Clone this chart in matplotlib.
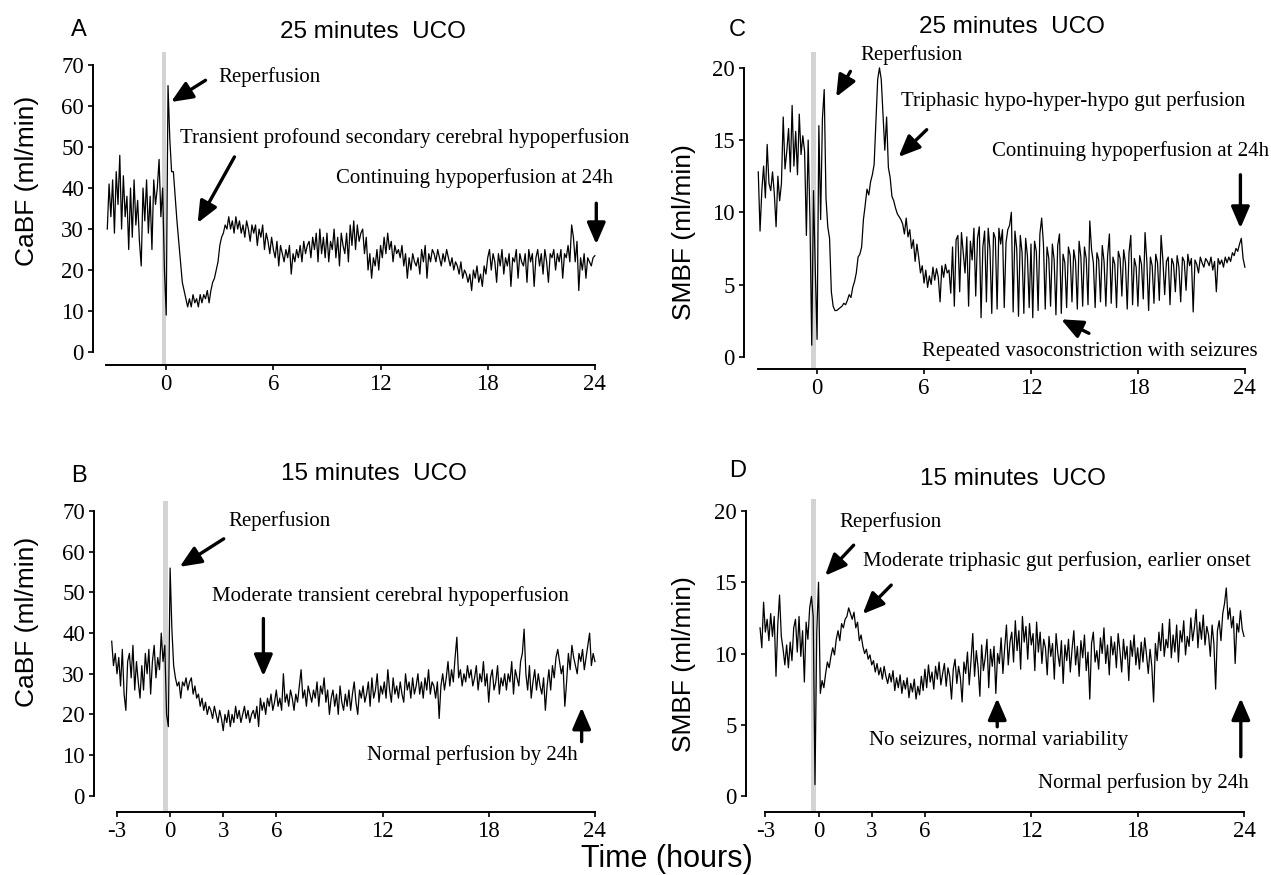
import numpy as np
import matplotlib.pyplot as plt

# ---- data (hours from -3.3 to 24, 0.1 h spacing) ----
caBF_25 = [
    30, 41, 33, 42, 29, 44, 36, 48, 30, 43,
    33, 38, 25, 40, 28, 42, 31, 37, 27, 21,
    40, 32, 42, 29, 38, 25, 42, 36, 40, 47,
    33, 40, 20, 9, 65, 52, 44, 44, 38, 32,
    27, 22, 17, 15, 13, 11, 13, 11, 14, 12,
    13, 11, 14, 12, 14, 13, 15, 12, 15, 17,
    18, 20, 22, 26, 28, 29, 31, 30, 33, 30,
    32, 29, 33,
    30, 32, 29, 31, 28, 32, 30, 27, 31, 29,
    31, 26, 30, 28, 31, 25, 29, 27, 24, 28,
    25, 23, 27, 21, 26, 24, 22, 25, 23, 26,
    19, 24, 22, 25, 23, 26, 22, 27, 24, 26,
    27, 23, 28, 25, 29, 22, 30, 24, 28, 23,
    29, 22, 27, 25, 30, 23, 28, 21, 29, 26,
    24, 29, 22, 31, 26, 32, 25, 31, 27, 29,
    30, 24, 28, 20, 24, 18, 23, 21, 25, 20,
    26, 23, 28, 24, 29, 25, 27, 22, 26, 24,
    25, 23, 26, 21, 24, 18, 23, 20, 24, 22,
    21, 23, 19, 25, 22, 26, 18, 24, 22, 25,
    24, 22, 25, 23, 21, 24, 22, 25, 23, 21,
    23, 20, 22, 21, 19, 22, 18, 20, 19, 17,
    19, 15, 20, 18, 21, 17, 19, 16, 21, 19,
    23, 25, 20, 24, 22, 17, 24, 21, 25, 19,
    23, 21, 24, 16, 23, 22, 25, 18, 24, 22,
    21, 24, 17, 25, 22, 24, 16, 23, 25, 21,
    24, 19, 25, 22, 17, 24, 23, 25, 20, 24,
    22, 25, 18, 24, 23, 26, 22, 31, 28, 22,
    27, 15, 23, 20, 24, 18, 23, 22, 21, 23,
    23.5]

caBF_15 = [
    38, 32, 35, 30, 34, 27, 36, 25, 21, 33,
    35, 29, 37, 26, 33, 28, 24, 32, 26, 35,
    30, 36, 25, 33, 37, 29, 34, 31, 40, 33,
    37, 20, 17, 56, 41, 32, 29, 27, 28, 24,
    28, 27, 29, 26, 28, 29, 25, 27, 24, 25,
    22, 24, 21, 23, 20, 22, 21, 19, 22, 20,
    18, 21, 19, 16, 20, 18, 21, 17, 20, 18,
    22, 19, 21,
    18, 20, 22, 19, 21, 18, 20, 21, 19, 22,
    17, 24, 21, 23, 20, 24, 22, 25, 21, 23,
    26, 22, 24, 21, 30, 23, 25, 22, 26, 24,
    21, 25, 23, 27, 31, 24, 26, 22, 27, 25,
    23, 26, 24, 28, 22, 27, 25, 29, 23, 26,
    20, 24, 26, 22, 25, 20, 27, 23, 21, 25,
    22, 26, 21, 25, 28, 23, 20, 26, 24, 27,
    23, 25, 28, 22, 29, 24, 26, 30, 23, 27,
    25, 28, 24, 31, 26, 23, 29, 25, 27, 24,
    28, 25, 23, 30, 26, 28, 24, 29, 25, 27,
    30, 25, 28, 24, 29, 26, 31, 25, 28, 27,
    24, 28, 19, 27, 30, 26, 29, 33, 27, 31,
    28, 34, 39, 29, 31, 27, 30, 28, 32, 29,
    31, 27, 29, 32, 26, 30, 28, 33, 27, 30,
    23, 29, 31, 26, 28, 32, 25, 29, 27, 30,
    26, 30, 28, 33, 25, 31, 29, 27, 33, 35,
    41, 30, 26, 32, 24, 28, 31, 26, 30, 27,
    25, 29, 21, 27, 31, 26, 32, 29, 34, 36,
    33, 30, 32, 22, 28, 35, 31, 37, 34, 32,
    30, 35, 33, 36, 31, 34, 37, 40, 32, 35,
    33]

smbf_25 = [
    12.8, 8.7, 11.5, 13.2, 11.0, 14.7, 12.0, 11.5, 12.8, 11.3,
    9.0, 12.5, 10.8, 12.0, 16.6, 13.0, 14.2, 15.8, 12.8, 17.4,
    13.2, 15.6, 12.6, 16.8, 14.0, 15.3, 14.2, 8.4, 15.0, 9.5,
    0.8, 11.5, 6.0, 1.2, 16.0, 9.5, 16.5, 18.5, 11.0, 9.0,
    8.2, 4.5, 3.5, 3.2, 3.2, 3.3, 3.4, 3.5, 3.7, 3.6,
    3.9, 4.3, 4.1, 4.8, 5.2, 5.8, 6.9, 7.1, 7.6, 9.5,
    10.5, 11.6, 11.2, 12.1, 12.6, 13.3, 16.2, 19.2, 20.0, 19.2,
    16.8, 14.3, 16.6,
    13.1, 12.4, 11.1, 10.8, 10.3, 9.9, 9.7, 9.5, 9.2, 8.5,
    9.6, 8.3, 8.8, 7.5, 8.1, 6.6, 7.8, 6.9, 5.8, 6.3,
    5.1, 6.0, 4.8, 5.6, 5.0, 6.2, 5.3, 6.1, 5.5, 3.8,
    6.3, 5.5, 6.4, 5.8, 6.0, 4.4, 7.6, 3.5, 8.1, 8.4,
    4.5, 8.6, 7.2, 5.8, 8.3, 3.5, 8.0, 6.7, 8.9, 4.2,
    8.2, 9.0, 2.7, 7.6, 8.7, 3.8, 8.9, 7.4, 3.0, 8.6,
    8.2, 3.3, 8.9, 7.8, 8.8, 3.4, 7.9, 8.8, 9.1, 10.0,
    3.1, 8.7, 7.5, 2.8, 8.4, 7.2, 3.0, 8.2, 7.0, 3.4,
    7.8, 2.7, 8.0, 7.3, 3.2, 8.5, 9.6, 7.8, 3.3, 7.6,
    6.8, 3.5, 7.8, 6.7, 2.9, 7.7, 8.5, 3.0, 7.1, 6.5,
    3.4, 7.6, 7.0, 3.8, 7.4, 6.6, 3.3, 8.0, 6.9, 3.5,
    7.6, 6.8, 3.6, 9.4, 7.4, 6.5, 3.4, 7.2, 6.7, 3.8,
    7.7, 6.6, 3.5, 7.0, 8.5, 3.7, 6.9, 6.4, 3.4, 7.3,
    6.8, 4.2, 7.4, 6.5, 3.3, 7.2, 8.4, 3.6, 6.8, 6.2,
    3.5, 7.0, 6.4, 4.0, 8.6, 6.6, 3.2, 6.9, 6.3, 3.7,
    7.1, 6.5, 3.9, 8.4, 6.7, 4.3, 6.6, 6.9, 3.6, 6.8,
    6.4, 4.5, 7.0, 6.2, 3.8, 6.9, 6.6, 4.6, 7.1, 6.3,
    6.8, 3.1, 6.7, 6.4, 5.8, 6.9, 6.5, 6.2, 6.8, 6.6,
    6.3, 6.9, 6.0, 6.6, 4.5, 6.8, 6.4, 6.7, 6.2, 6.9,
    6.5, 6.9, 6.6, 7.2, 7.0, 7.5, 7.3, 7.8, 8.2, 6.8,
    6.2]

smbf_15 = [
    11.8, 10.4, 13.6, 11.5, 12.4, 10.9, 12.8, 11.2, 12.6, 8.4,
    12.0, 14.1, 11.2, 10.3, 9.2, 10.6, 9.0, 10.8, 9.5, 11.8,
    12.4, 10.1, 12.6, 9.8, 11.6, 8.0, 12.2, 11.0, 13.2, 14.0,
    12.6, 0.8, 11.5, 15.0, 7.2, 8.1, 7.6, 8.6, 9.4, 9.0,
    9.8, 10.4, 9.9, 11.0, 11.6, 10.9, 12.1, 11.8, 12.4, 12.6,
    13.2, 12.8, 12.4, 12.9, 11.8, 12.2, 10.9, 11.3, 10.5, 10.0,
    10.3, 9.6, 9.9, 9.2, 9.5, 8.7, 9.3, 8.5, 9.0, 8.2,
    9.1, 8.4, 7.9,
    8.6, 8.0, 8.8, 7.4, 8.3, 7.6, 8.5, 7.2, 8.1, 7.5,
    8.3, 6.9, 7.9, 7.3, 8.2, 6.8, 7.7, 7.1, 8.4, 7.4,
    8.9, 7.6, 9.2, 8.0, 8.7, 7.5, 9.1, 8.2, 9.4, 7.8,
    8.6, 9.3, 7.7, 9.0, 8.4, 6.8, 8.9, 9.6, 7.9, 9.1,
    8.3, 6.6, 9.4, 8.6, 10.1, 7.8, 9.5, 11.4, 8.4, 10.2,
    9.0, 7.0, 10.6, 8.8, 9.7, 11.0, 7.6, 10.3, 9.1, 10.5,
    7.2, 10.0, 9.3, 11.1, 8.6, 10.4, 12.0, 9.2, 10.8, 11.5,
    9.4, 12.3, 10.2, 11.6, 8.9, 12.6, 10.8, 11.9, 9.6, 12.1,
    10.6, 11.4, 8.8, 12.2, 10.1, 11.5, 9.3, 11.0, 10.4, 8.5,
    11.2, 9.8, 10.7, 8.2, 11.4, 10.0, 9.1, 10.9, 7.9, 10.6,
    9.5, 11.0, 8.7, 10.3, 11.6, 9.2, 10.5, 8.4, 10.9, 9.7,
    11.3, 8.8, 10.1, 6.8, 10.7, 11.5, 9.4, 10.2, 8.9, 11.1,
    10.0, 11.8, 9.3, 10.6, 8.5, 11.2, 9.9, 10.8, 9.0, 11.4,
    10.2, 8.7, 11.0, 9.6, 10.5, 8.1, 10.9, 9.8, 11.3, 9.2,
    10.4, 8.9, 10.8, 9.4, 11.1, 9.9, 8.6, 10.3, 9.1, 6.6,
    10.7, 9.5, 11.5, 10.2, 12.1, 9.8, 11.0, 10.4, 12.4, 9.7,
    11.3, 10.1, 12.0, 9.4, 11.6, 10.8, 12.3, 9.9, 11.2, 10.5,
    12.5, 10.9, 11.8, 13.1, 10.4, 12.2, 11.0, 12.7, 10.6, 11.9,
    11.3, 9.8, 12.0, 10.7, 7.5, 11.6, 12.3, 10.9, 12.8, 13.5,
    14.6, 12.4, 13.2, 11.8, 12.6, 9.3, 12.1, 11.5, 13.0, 11.7,
    11.2]

t_start, t_end = -3.3, 24.0

serif = 'Liberation Serif'
sans = 'Liberation Sans'

fig = plt.figure(figsize=(12.71, 8.75), dpi=100)


def panel(rect, values, ylim, ymax, yticks, xticks, xstart, xleft, band,
          ylabel, title, letter, title_xy, letter_xy, ylabel_xy):
    ax = fig.add_axes(rect)
    t = np.linspace(t_start, t_end, len(values))
    ax.axvspan(band[0], band[1], color='#d3d3d3', lw=0, zorder=0)
    ax.plot(t, values, color='k', lw=0.9)
    ax.set_xlim(xleft, 24.4)
    ax.set_ylim(*ylim)
    for s in ('top', 'right'):
        ax.spines[s].set_visible(False)
    ax.spines['left'].set_bounds(0, ymax)
    ax.spines['bottom'].set_bounds(xstart, 24)
    ax.spines['left'].set_linewidth(1.4)
    ax.spines['bottom'].set_linewidth(1.4)
    ax.set_yticks(yticks)
    ax.set_xticks(xticks)
    ax.set_xticklabels([str(v) for v in xticks])
    ax.tick_params(direction='out', length=3.5, width=1.2, labelsize=16.5, pad=3)
    for lab in ax.get_xticklabels() + ax.get_yticklabels():
        lab.set_fontfamily(serif)
    fig.text(*ylabel_xy, ylabel, rotation=90, ha='center', va='center',
             fontsize=19, family=sans)
    fig.text(*title_xy, title, ha='center', va='baseline', fontsize=17.5, family=sans)
    fig.text(*letter_xy, letter, ha='left', va='baseline', fontsize=17, family=sans)
    return ax


def note(ax, x, y, s):
    ax.text(x, y, s, fontsize=15, family=serif, ha='left', va='baseline')


def arrow(ax, tail, tip):
    ax.annotate('', xy=tip, xytext=tail,
                arrowprops=dict(arrowstyle='-|>,head_length=0.65,head_width=0.28',
                                lw=2.4, color='k', mutation_scale=20,
                                shrinkA=0, shrinkB=0))


H = 875.0
W = 1271.0

# A
axA = panel([93 / W, 1 - 365 / H, 509 / W, 313 / H], caBF_25, (-3.17, 73.2), 70,
            range(0, 71, 10), [0, 6, 12, 18, 24], -3.35, -4.1, (-0.25, 0.0),
            'CaBF (ml/min)', '25 minutes  UCO', 'A',
            (373 / W, 1 - 38 / H), (71 / W, 1 - 36 / H), (27 / W, 1 - 181 / H))
note(axA, 2.94, 65.9, 'Reperfusion')
arrow(axA, (2.2, 66.3), (0.27, 61))
note(axA, 0.76, 51, 'Transient profound secondary cerebral hypoperfusion')
arrow(axA, (3.82, 47.6), (1.76, 31.5))
note(axA, 9.53, 41.2, 'Continuing hypoperfusion at 24h')
arrow(axA, (24.08, 36.3), (24.08, 26.3))

# C
axC = panel([744 / W, 1 - 369 / H, 508 / W, 317 / H], smbf_25, (-0.85, 21.1), 20,
            range(0, 21, 5), [0, 6, 12, 18, 24], -3.3, -4.1, (-0.35, -0.05),
            'SMBF (ml/min)', '25 minutes  UCO', 'C',
            (1012 / W, 1 - 33 / H), (729 / W, 1 - 36 / H), (684 / W, 1 - 232 / H))
note(axC, 2.44, 20.58, 'Reperfusion')
arrow(axC, (1.87, 19.76), (1.07, 17.99))
note(axC, 4.73, 17.39, 'Triphasic hypo-hyper-hypo gut perfusion')
arrow(axC, (6.15, 15.72), (4.57, 13.83))
note(axC, 9.8, 13.87, 'Continuing hypoperfusion at 24h')
arrow(axC, (23.75, 12.6), (23.75, 8.9))
note(axC, 5.87, 0.05, 'Repeated vasoconstriction with seizures')
arrow(axC, (15.25, 1.62), (13.69, 2.59))

# B
axB = panel([94 / W, 1 - 811.7 / H, 508 / W, 310.7 / H], caBF_15, (-3.93, 72.5), 70,
            range(0, 71, 10), [-3, 0, 3, 6, 12, 18, 24], -3.0, -4.3, (-0.4, -0.1),
            'CaBF (ml/min)', '15 minutes  UCO', 'B',
            (374 / W, 1 - 480 / H), (71 / W, 1 - 482 / H), (27 / W, 1 - 622 / H))
note(axB, 3.31, 66.3, 'Reperfusion')
arrow(axB, (3.03, 63.2), (0.54, 56.3))
note(axB, 2.34, 47.9, 'Moderate transient cerebral hypoperfusion')
arrow(axB, (5.27, 43.6), (5.27, 29.4))
note(axB, 11.15, 8.9, 'Normal perfusion by 24h')
arrow(axB, (23.25, 13.3), (23.25, 21.7))

# D
axD = panel([745.5 / W, 1 - 812 / H, 505.6 / W, 313 / H], smbf_15, (-1.12, 20.84), 20,
            range(0, 21, 5), [-3, 0, 3, 6, 12, 18, 24], -3.0, -4.12, (-0.43, -0.14),
            'SMBF (ml/min)', '15 minutes  UCO', 'D',
            (1013 / W, 1 - 485 / H), (729 / W, 1 - 477 / H), (684 / W, 1 - 664 / H))
note(axD, 1.15, 18.9, 'Reperfusion')
arrow(axD, (1.98, 17.6), (0.37, 15.46))
note(axD, 2.49, 16.14, 'Moderate triphasic gut perfusion, earlier onset')
arrow(axD, (4.1, 14.8), (2.49, 12.77))
note(axD, 2.83, 3.58, 'No seizures, normal variability')
arrow(axD, (10.08, 4.86), (10.08, 6.86))
note(axD, 12.39, 0.54, 'Normal perfusion by 24h')
arrow(axD, (23.82, 2.76), (23.82, 6.86))

fig.text(667 / W, 8 / H, 'Time (hours)', ha='center', va='baseline',
         fontsize=22, family=sans)

fig.savefig('out.png', dpi=100)
